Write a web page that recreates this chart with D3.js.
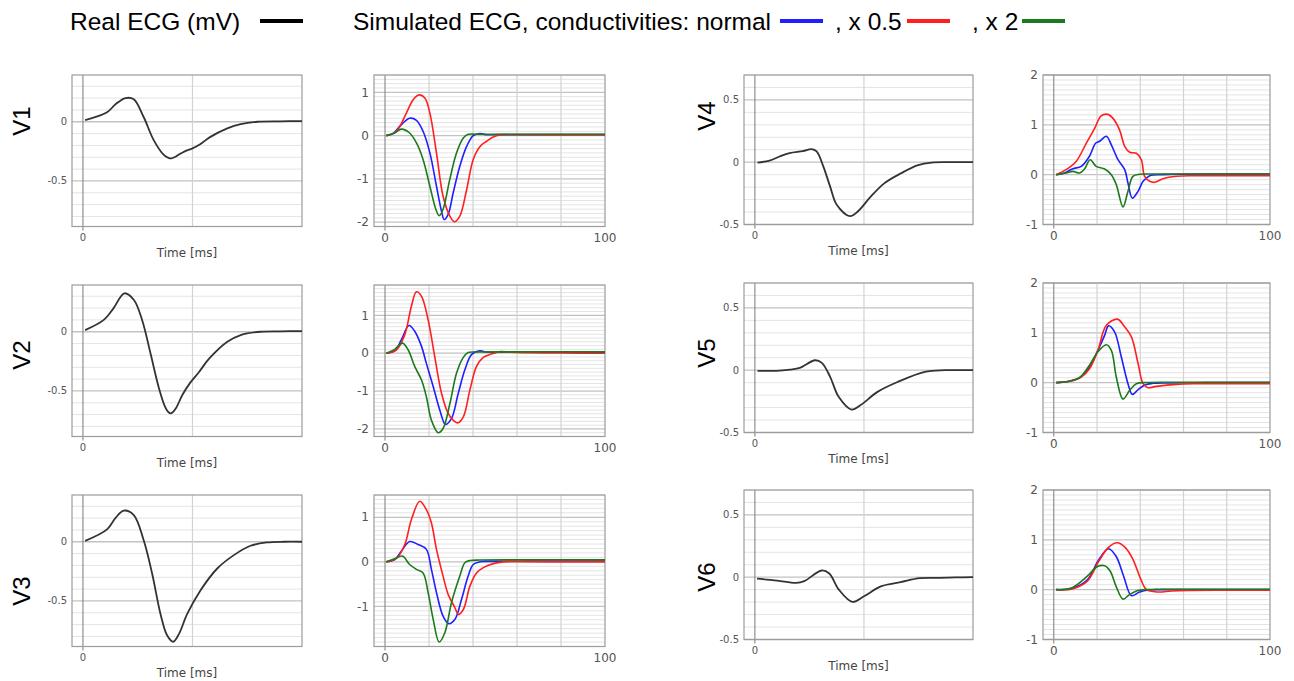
<html>
<head>
<style>
    body { margin: 0; background: #fff; }
    svg { font-family: 'DejaVu Sans', Verdana, sans-serif; }
    .legend, .lead { font-family: 'Liberation Sans', Arial, sans-serif; fill: #000; }
</style>
</head>
<body>
<svg width="1294" height="681"></svg>
<script src="https://d3js.org/d3.v7.min.js"></script>
<script>
// ---- data: [time ms, value] ----
const leads = ["V1", "V2", "V3", "V4", "V5", "V6"];

const realV1 = [[1,0.014],[11,0.08],[15,0.15],[19.4,0.2],[23.2,0.19],[27.7,0.04],[32.3,-0.155],[36.9,-0.28],[39,-0.305],[40.4,-0.31],[42,-0.298],[44,-0.275],[46.5,-0.25],[50,-0.225],[53.5,-0.19],[58,-0.13],[65.9,-0.056],[72,-0.02],[79.6,0],[90,0.004],[100,0.006]];
const realV2 = [[1,0.014],[9.5,0.1],[14,0.2],[18.9,0.325],[23.2,0.27],[27,0.1],[30.8,-0.18],[34.6,-0.47],[37.4,-0.63],[38.8,-0.675],[39.9,-0.69],[41,-0.68],[42.5,-0.645],[45.5,-0.53],[49,-0.43],[53,-0.34],[57.5,-0.23],[65.9,-0.085],[72,-0.028],[81,0],[90,0.004],[100,0.006]];
const realV3 = [[1,0.008],[11,0.105],[14.8,0.2],[18.6,0.263],[23.2,0.226],[27.7,0.014],[31.6,-0.27],[35.4,-0.61],[38.4,-0.79],[41.2,-0.845],[43.8,-0.78],[47.6,-0.61],[53.7,-0.41],[61.3,-0.226],[68.9,-0.113],[76.5,-0.034],[84,-0.006],[92,0],[100,0]];
const realV4 = [[1.2,-0.003],[6.7,0.013],[11.3,0.046],[15.9,0.073],[22,0.089],[26,0.105],[28.3,0.086],[31.4,-0.035],[34.5,-0.196],[37.6,-0.344],[43.5,-0.433],[46.9,-0.4],[53.1,-0.277],[59.3,-0.17],[67,-0.089],[74.8,-0.024],[81,-0.003],[90,0],[100,0]];
const realV5 = [[1.2,-0.005],[9.8,-0.005],[16,0.005],[20.6,0.019],[27.6,0.08],[30.7,0.059],[34.5,-0.053],[38.4,-0.214],[44.3,-0.316],[48.5,-0.28],[56.2,-0.174],[65.5,-0.094],[77.9,-0.013],[87.2,0],[100,0]];
const realV6 = [[1,-0.011],[10.2,-0.027],[19,-0.046],[22.6,-0.032],[30.6,0.054],[34.1,0.03],[38.5,-0.1],[44.7,-0.198],[50,-0.153],[58,-0.072],[66.8,-0.04],[75.6,-0.008],[84.5,-0.005],[92,-0.002],[100,0]];

const normalV1 = [[0.6,0],[3.6,0.046],[6.7,0.215],[11.2,0.4],[14.3,0.354],[17.3,0.1],[20.4,-0.4],[23.4,-1.17],[25.7,-1.75],[26.9,-1.94],[28.7,-1.82],[31,-1.32],[34,-0.71],[37.1,-0.25],[40.1,0],[43.2,0.046],[46.2,0.02],[52,0.023],[70,0.023],[100,0.023]];
const halfV1 = [[0.6,0],[5.2,0.1],[9.7,0.52],[12.8,0.83],[15.5,0.94],[18.1,0.87],[20.4,0.52],[23.4,-0.4],[26.4,-1.4],[29.5,-1.86],[31.5,-1.99],[34,-1.86],[37.1,-1.25],[40.1,-0.55],[43.2,-0.25],[46.2,-0.13],[49.2,-0.03],[52.3,0.015],[58,0.02],[75,0.015],[100,0.015]];
const doubleV1 = [[0.6,0],[4.4,0.06],[7.4,0.15],[11.2,0.06],[14.3,-0.17],[17.3,-0.55],[20.4,-1.17],[23.1,-1.7],[24.6,-1.85],[26.4,-1.7],[29.5,-1.0],[32.5,-0.4],[35.6,-0.054],[37.8,0.03],[42,0.03],[60,0.03],[100,0.03]];

const normalV2 = [[0.6,0],[4.4,0.06],[7.4,0.35],[10.9,0.73],[13.5,0.58],[16.6,0.18],[18.8,-0.27],[21.9,-0.88],[24.9,-1.5],[27.5,-1.88],[30.2,-1.73],[33.3,-1.06],[36.3,-0.44],[39.4,-0.03],[43.2,0.06],[46.2,0.03],[52,0.027],[70,0.027],[100,0.027]];
const halfV2 = [[0.6,0],[5.2,0.09],[9,0.49],[12,1.24],[14.3,1.62],[16.6,1.5],[19.6,0.88],[22.6,-0.09],[25.7,-1.06],[28.7,-1.59],[31,-1.77],[33,-1.84],[35.6,-1.68],[38.6,-0.97],[41.6,-0.35],[44.7,-0.11],[48.5,-0.018],[52.3,0.04],[56.8,0.027],[65,0.01],[80,0.004],[100,0]];
const doubleV2 = [[0.6,0],[4.4,0.1],[7.9,0.265],[10.5,0.09],[13.5,-0.35],[16.6,-0.71],[18.8,-1.15],[21.1,-1.77],[24.2,-2.1],[26.4,-1.99],[29.5,-1.33],[32.5,-0.53],[35.6,-0.11],[37.8,0.018],[42,0.03],[60,0.035],[100,0.035]];

const normalV3 = [[0.6,0],[4.4,0.05],[7.4,0.24],[11.2,0.455],[15,0.39],[18.8,0.28],[21.1,-0.17],[23.4,-0.69],[26.4,-1.22],[29,-1.39],[31.8,-1.29],[34.8,-0.84],[37.8,-0.32],[40.1,-0.06],[43.2,0],[48,0.01],[65,0.015],[100,0.015]];
const halfV3 = [[0.6,0],[5.2,0.075],[9,0.39],[12,0.95],[15.8,1.36],[18.8,1.17],[21.1,0.87],[23.4,0.28],[26.4,-0.32],[28.7,-0.73],[31.8,-1.03],[33.3,-1.18],[35.6,-1.07],[38.6,-0.545],[41.6,-0.25],[44.7,-0.13],[49.2,-0.04],[53.8,0],[60,0.003],[75,0],[100,0]];
const doubleV3 = [[0.6,0],[4.4,0.07],[7.9,0.13],[11.2,-0.06],[14.3,-0.17],[17.3,-0.25],[19.6,-0.69],[21.9,-1.29],[24.6,-1.8],[27.2,-1.59],[30.2,-0.92],[34,-0.32],[36.3,-0.02],[38.6,0.03],[43,0.04],[60,0.045],[100,0.045]];

const normalV4 = [[1.1,0],[4.9,0.033],[8.8,0.12],[12.7,0.167],[16.5,0.37],[19.3,0.63],[21.2,0.67],[24.3,0.77],[26.6,0.6],[29.7,0.3],[32.8,0.1],[34.3,-0.167],[36.3,-0.47],[39,-0.33],[41.3,-0.133],[44.4,-0.02],[50.5,0],[60,0.008],[80,0.013],[100,0.013]];
const halfV4 = [[1.1,0],[5.7,0.1],[10.4,0.27],[15,0.63],[18.9,0.93],[21.9,1.18],[25,1.21],[27.4,1.13],[30.4,0.9],[32.8,0.57],[35.1,0.45],[38.2,0.43],[40.5,0.3],[42,-0.033],[44.4,-0.133],[46.7,-0.153],[50.5,-0.08],[56.7,-0.033],[65,-0.022],[80,-0.02],[100,-0.02]];
const doubleV4 = [[1.1,0],[5.7,0.033],[8.8,0.067],[11.9,0.033],[14.2,0.113],[16.8,0.3],[19.6,0.167],[23.5,0.113],[26.6,0],[28.9,-0.2],[32,-0.647],[34.3,-0.333],[36.6,-0.033],[39.7,0.007],[45,0.012],[65,0.013],[100,0.013]];

const normalV5 = [[1.1,0],[7.3,0.027],[11.9,0.1],[16.5,0.315],[20.4,0.65],[23.5,0.95],[25.3,1.14],[28.1,1.02],[31.2,0.52],[34.3,-0.02],[36.3,-0.235],[39,-0.14],[42.1,-0.047],[45.9,-0.013],[52,-0.004],[70,0],[100,0]];
const halfV5 = [[1.1,0],[7.3,0.027],[12.7,0.114],[16.5,0.28],[20.4,0.65],[24.3,1.15],[29.4,1.275],[32.8,1.12],[35.9,0.92],[39,0.38],[41.3,-0.02],[43.6,-0.1],[47.4,-0.074],[56.7,-0.034],[66,-0.022],[80,-0.02],[100,-0.02]];
const doubleV5 = [[1.1,0],[7.3,0.034],[11.9,0.1],[16.5,0.35],[20.4,0.62],[24.3,0.76],[26.6,0.65],[28.9,0.114],[32,-0.33],[35.1,-0.154],[38.2,-0.02],[43,0.004],[60,0.007],[100,0.007]];

const normalV6 = [[1.1,0],[8.5,0.027],[15.5,0.2],[20.8,0.6],[25.3,0.82],[28.8,0.67],[32.3,0.27],[35.9,-0.12],[39.4,-0.054],[43.8,-0.007],[50,0],[70,0],[100,0]];
const halfV6 = [[1.1,0],[8.5,0.013],[15.5,0.17],[20.8,0.57],[25.3,0.85],[29.3,0.94],[33.2,0.84],[36.7,0.6],[40.3,0.2],[42.9,0],[48.2,-0.047],[54.4,-0.027],[62,-0.016],[80,-0.013],[100,-0.013]];
const doubleV6 = [[1.1,0],[8.5,0.04],[15.5,0.27],[20,0.46],[23.5,0.48],[26.1,0.37],[28.8,0.067],[32,-0.19],[35,-0.1],[38.5,-0.02],[43,0.004],[60,0.007],[100,0.007]];

const realSeries = [realV1, realV2, realV3, realV4, realV5, realV6];
const simSeries = [
    [normalV1, halfV1, doubleV1], [normalV2, halfV2, doubleV2], [normalV3, halfV3, doubleV3],
    [normalV4, halfV4, doubleV4], [normalV5, halfV5, doubleV5], [normalV6, halfV6, doubleV6]
];

// axis ranges and ticks
const realDomains = [[-0.885, 0.395], [-0.885, 0.395], [-0.885, 0.395], [-0.5, 0.7], [-0.5, 0.7], [-0.5, 0.7]];
const simDomains = [[-2.1, 1.4], [-2.2, 1.8], [-1.9, 1.5], [-1, 2], [-1, 2], [-1, 2]];
const timeDomain = [-5, 100];
const realTimeGrid = [0, 50];
const simTimeGrid = [0, 20, 40, 60, 80];
const realTimeLabels = [0];
const simTimeLabels = [0, 100];

const simNames = ["normal", "x 0.5", "x 2"];
const simColors = ["#1f1fff", "#ff1f1f", "#1c7a1c"];
const realColor = "#333";

// ---- layout ----
const svg = d3.select("svg");
const leftCol = { realX: 72, realW: 230, simX: 374, simW: 231, tops: [75, 285, 495], h: 151.5, labelX: 22, labelY: [121, 355, 591] };
const rightCol = { realX: 744, realW: 229, simX: 1043, simW: 227, tops: [75, 283, 490], h: 149.5, labelX: 707, labelY: [116, 353, 577] };

function drawPanel(x0, y0, w, h, yDomain, major, xGrid, xLabels, curves, colors, isReal) {
    let g = svg.append("g").attr("transform", `translate(${x0},${y0})`);
    let x = d3.scaleLinear().domain(timeDomain).range([0, w]);
    let y = d3.scaleLinear().domain(yDomain).range([h, 0]);

    g.append("rect").attr("width", w).attr("height", h).attr("fill", "#fff");

    // horizontal grid every 0.1, darker on majors
    let lo = Math.ceil(yDomain[0] * 10 - 1e-6), hi = Math.floor(yDomain[1] * 10 + 1e-6);
    for (let k = lo; k <= hi; k++) {
        let v = k / 10;
        let isMajor = Math.abs(v / major - Math.round(v / major)) < 1e-6;
        g.append("line")
            .attr("x1", 0).attr("x2", w)
            .attr("y1", y(v)).attr("y2", y(v))
            .attr("stroke", isMajor ? "#c2c2c2" : "#e4e4e4")
            .attr("stroke-width", isMajor ? 1.3 : 1);
        if (isMajor) {
            g.append("text")
                .attr("x", -5).attr("y", y(v)).attr("dy", "0.35em")
                .attr("text-anchor", "end")
                .attr("font-size", isReal ? 10 : 12)
                .attr("fill", "#555")
                .text(String(Math.round(v * 10) / 10));
        }
    }

    // vertical grid
    xGrid.forEach(t => {
        g.append("line")
            .attr("x1", x(t)).attr("x2", x(t))
            .attr("y1", 0).attr("y2", t === 0 ? h + 4 : h)
            .attr("stroke", t === 0 ? "#7a7a7a" : "#d2d2d2")
            .attr("stroke-width", t === 0 ? 1 : 1.2);
    });

    g.append("rect").attr("width", w).attr("height", h)
        .attr("fill", "none").attr("stroke", "#9c9c9c").attr("stroke-width", 1.2);

    xLabels.forEach(t => {
        g.append("text")
            .attr("x", x(t)).attr("y", h + (isReal ? 14 : 15.5))
            .attr("text-anchor", "middle")
            .attr("font-size", isReal ? 10 : 12)
            .attr("fill", "#555")
            .text(t);
    });

    if (isReal) {
        g.append("text")
            .attr("x", w / 2).attr("y", h + 30)
            .attr("text-anchor", "middle")
            .attr("font-size", 12)
            .attr("fill", "#444")
            .text("Time [ms]");
    }

    let line = d3.line()
        .x(d => x(d[0]))
        .y(d => y(d[1]))
        .curve(d3.curveCatmullRom.alpha(0.5));

    curves.forEach((c, i) => {
        g.append("path")
            .attr("d", line(c))
            .attr("fill", "none")
            .attr("stroke", colors[i])
            .attr("stroke-width", isReal ? 1.8 : 1.6);
    });
}

leads.forEach((lead, i) => {
    let col = i < 3 ? leftCol : rightCol;
    let r = i % 3;
    let top = col.tops[r];

    drawPanel(col.realX, top, col.realW, col.h, realDomains[i], 0.5, realTimeGrid, realTimeLabels,
        [realSeries[i]], [realColor], true);
    drawPanel(col.simX, top, col.simW, col.h, simDomains[i], 1, simTimeGrid, simTimeLabels,
        simSeries[i], simColors, false);

    svg.append("text")
        .attr("class", "lead")
        .attr("transform", `translate(${col.labelX},${col.labelY[r]}) rotate(-90)`)
        .attr("text-anchor", "middle")
        .attr("dy", "0.35em")
        .attr("font-size", 24)
        .text(lead);
});

// ---- legend ----
let legend = svg.append("g").attr("class", "legend").attr("font-size", 24.5);
legend.append("text").attr("x", 70).attr("y", 30).text("Real ECG (mV)");
legend.append("line").attr("x1", 260).attr("x2", 303).attr("y1", 21).attr("y2", 21)
    .attr("stroke", "#000").attr("stroke-width", 4);

let legendItems = [
    { label: "Simulated ECG, conductivities: " + simNames[0], textX: 353, lineX: 780 },
    { label: ", " + simNames[1], textX: 835, lineX: 907 },
    { label: ", " + simNames[2], textX: 972, lineX: 1022 }
];
legendItems.forEach((d, i) => {
    legend.append("text").attr("x", d.textX).attr("y", 30).text(d.label);
    legend.append("line").attr("x1", d.lineX).attr("x2", d.lineX + 43).attr("y1", 21).attr("y2", 21)
        .attr("stroke", simColors[i]).attr("stroke-width", 4);
});
</script>
</body>
</html>
